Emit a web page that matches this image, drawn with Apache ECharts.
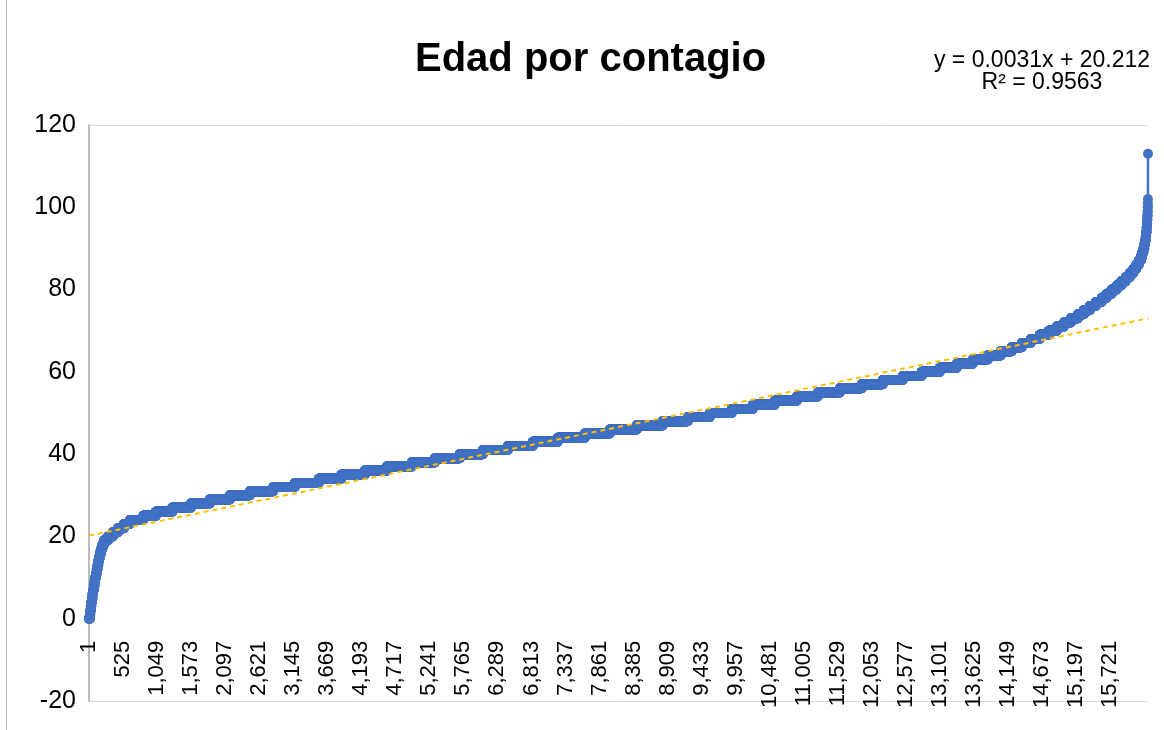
<!DOCTYPE html>
<html>
<head>
<meta charset="utf-8">
<script src="https://cdn.jsdelivr.net/npm/echarts@6/dist/echarts.min.js"></script>
<style>
  html, body { margin: 0; padding: 0; background: #ffffff; }
  #chart { position: absolute; left: 0; top: 0; width: 1164px; height: 730px; }
  #frame { position: absolute; left: 6px; top: 0; width: 1px; height: 730px; background: #BFBFBF; }
</style>
</head>
<body>
<div id="chart"></div>
<div id="frame"></div>
<script>
// Ages (years) and number of cases at each age
const ages = [
  0,1,2,3,4,5,6,7,8,9,10,11,12,13,14,15,16,17,18,19,
  20,21,22,23,24,25,26,27,28,29,30,31,32,33,34,35,36,37,38,39,
  40,41,42,43,44,45,46,47,48,49,50,51,52,53,54,55,56,57,58,59,
  60,61,62,63,64,65,66,67,68,69,70,71,72,73,74,75,76,77,78,79,
  80,81,82,83,84,85,86,87,88,89,90,91,92,93,94,95,96,97,98,99,
  100,101,102,113
];
const caseCounts = [
  13,8,7,8,9,9,10,10,11,11,11,12,12,12,13,15,17,19,22,62,
  77,77,92,92,208,192,254,285,292,308,308,362,331,369,346,362,339,385,354,385,
  354,385,385,385,415,385,415,400,385,339,339,323,339,339,323,339,339,323,308,292,
  277,262,246,231,200,169,154,139,139,139,123,108,108,108,92,92,92,92,77,77,
  77,69,69,62,54,46,38,31,23,18,15,12,9,8,6,5,4,3,3,2,
  2,1,1,1
];
// Linear trend line as drawn in the picture (value at first and last case)
const trendStart = 20.2;
const trendEnd = 73.0;
const equationText = 'y = 0.0031x + 20.212';
const r2Text = 'R² = 0.9563';
const titleText = 'Edad por contagio';
const yMin = -20, yMax = 120, yStep = 20;

// sorted age of every case
const sortedAges = [];
ages.forEach((a, k) => { for (let j = 0; j < caseCounts[k]; j++) sortedAges.push(a); });
const caseIndex = sortedAges.map((_, i) => (i + 1).toLocaleString('en-US'));
const N = sortedAges.length;

const GRID_TOP = 125, GRID_BOTTOM = 29, H = 730;
const plotH = H - GRID_TOP - GRID_BOTTOM;
// place the category axis where the value axis is zero
const zeroOffset = -plotH * (0 - yMin) / (yMax - yMin);

const FONT = "'Liberation Sans', Arial, sans-serif";
const chart = echarts.init(document.getElementById('chart'), null, { renderer: 'canvas' });
chart.setOption({
  animation: false,
  backgroundColor: '#ffffff',
  grid: { left: 89, right: 16, top: GRID_TOP, bottom: GRID_BOTTOM, containLabel: false, outerBoundsMode: 'none' },
  xAxis: {
    type: 'category',
    data: caseIndex,
    boundaryGap: false,
    offset: zeroOffset,
    axisLine: { show: false, onZero: false },
    axisTick: { show: false },
    splitLine: { show: false },
    axisLabel: {
      rotate: 90,
      interval: 523,
      margin: 22,
      fontSize: 22,
      color: '#000000',
      fontFamily: FONT,
      showMaxLabel: false
    }
  },
  yAxis: {
    type: 'value',
    min: yMin,
    max: yMax,
    interval: yStep,
    axisLine: { show: true, lineStyle: { color: '#A6A6A6', width: 1.5 } },
    axisTick: { show: false },
    axisLabel: { fontSize: 25, color: '#000000', fontFamily: FONT, margin: 13 },
    splitLine: {
      show: true,
      lineStyle: {
        color: ['#D9D9D9', 'rgba(0,0,0,0)', 'rgba(0,0,0,0)', 'rgba(0,0,0,0)',
                'rgba(0,0,0,0)', 'rgba(0,0,0,0)', 'rgba(0,0,0,0)', '#D9D9D9'],
        width: 1
      }
    }
  },
  series: [{
    type: 'line',
    data: sortedAges,
    symbol: 'circle',
    symbolSize: 10,
    showSymbol: true,
    showAllSymbol: true,
    sampling: null,
    lineStyle: { color: '#4472C4', width: 2.5 },
    itemStyle: { color: '#4472C4' },
    silent: true,
    z: 2,
    markLine: {
      silent: true,
      symbol: ['none', 'none'],
      label: { show: false },
      lineStyle: { color: '#FFC000', type: [5, 4], width: 2 },
      z: 3,
      data: [[
        { coord: [0, trendStart] },
        { coord: [N - 1, trendEnd] }
      ]]
    }
  }],
  graphic: [
    {
      type: 'text', left: 415, top: 40, z: 10,
      style: { text: titleText, font: "bold 40px 'Liberation Sans', Arial, sans-serif", fill: '#000000' }
    },
    {
      type: 'text', x: 1042, y: 61, z: 10,
      style: { text: equationText, font: "23px 'Liberation Sans', Arial, sans-serif", fill: '#000000',
               textAlign: 'center', textVerticalAlign: 'middle' }
    },
    {
      type: 'text', x: 1042, y: 83, z: 10,
      style: { text: r2Text, font: "23px 'Liberation Sans', Arial, sans-serif", fill: '#000000',
               textAlign: 'center', textVerticalAlign: 'middle' }
    }
  ]
});
</script>
</body>
</html>
